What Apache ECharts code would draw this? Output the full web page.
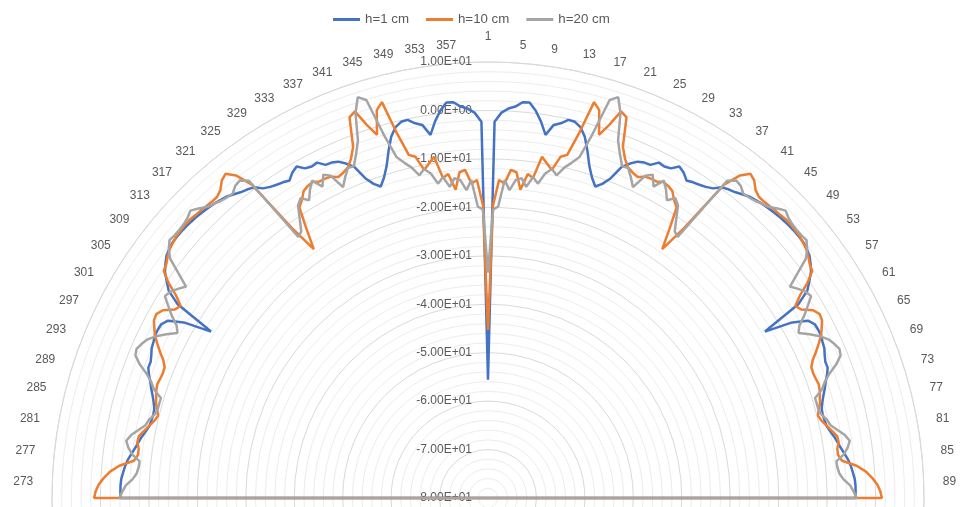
<!DOCTYPE html>
<html><head><meta charset="utf-8">
<script src="https://cdn.jsdelivr.net/npm/echarts@6/dist/echarts.min.js"></script>
<style>html,body{margin:0;padding:0;background:#fff}#c{width:960px;height:507px}</style>
</head><body><div id="c"></div>
<script>
// Series names and colours
const seriesNames = ['h=1 cm', 'h=10 cm', 'h=20 cm'];
const seriesColors = ['#4472C4', '#ED7D31', '#A5A5A5'];
// Radial scale (dB)
const radialMin = -80, radialMax = 10, radialStep = 10;
// Value of the hidden rear half (categories 92..270) = centre of the chart
const rearValue = -80;

// Values for categories 1..91 (front right half)
const blueRight = [-55.6, -2.3, -0.4, 0.5, 1.0, 2.0, 2.1, 0.6, -1.5, -4.1,
  -1.8, -1.2, -0.2, -0.3, -1.1, -2.8, -5.5, -8.4, -10.5, -12.0,
  -11.0, -9.3, -6.3, -5.0, -4.0, -3.6, -3.5, -2.3, -2.5, -2.2,
  -1.0, -1.6, -2.7, -2.3, -2.0, -1.6, -1.0, 0.3, 0.8, 1.2,
  1.8, 2.4, 2.7, 3.0, 3.2, 3.4, 3.6, 3.7, 3.8, 3.85,
  3.85, 3.8, 3.5, 3.1, 2.3, 1.4, 0.0, -1.4, -4.4, -13.3,
  -7.5, -4.5, -3.6, -3.5, -3.5, -3.8, -4.0, -4.5, -4.9, -4.9,
  -5.5, -6.3, -6.9, -7.6, -8.2, -8.7, -8.8, -8.7, -8.55, -8.0,
  -7.4, -6.9, -6.4, -5.8, -5.2, -4.8, -4.5, -4.2, -4.1, -4.1, -4.2];
// Values for categories 271..360 (front left half)
const blueLeft = [-4.2, -4.1, -4.1, -4.2, -4.5, -4.8, -5.2, -5.8, -6.4, -6.9,
  -7.4, -8.0, -8.55, -8.7, -8.8, -8.7, -8.2, -7.6, -6.9, -6.3,
  -5.5, -4.9, -4.9, -4.5, -4.0, -3.8, -3.5, -3.5, -3.6, -4.5,
  -7.5, -13.3, -4.4, -1.4, 0.0, 1.4, 2.3, 3.1, 3.5, 3.8,
  3.85, 3.85, 3.8, 3.7, 3.6, 3.4, 3.2, 3.0, 2.7, 2.4,
  1.8, 1.2, 0.8, 0.3, -1.0, -1.6, -2.0, -2.3, -2.7, -1.6,
  -1.0, -2.2, -2.5, -2.3, -3.5, -3.6, -4.0, -5.0, -6.3, -9.3,
  -11.0, -12.0, -10.5, -8.4, -5.5, -2.8, -1.1, -0.3, -0.2, -1.2,
  -1.8, -4.1, -1.5, 0.6, 2.1, 2.0, 1.0, 0.5, -0.4, -2.3];

const orangeRight = [-45.3, -19.5, -14.3, -15.0, -12.1, -12.5, -16.0, -12.6, -13.3, -8.7,
  -9.9, -11.0, -8.0, -7.3, -2.5, 4.6, 3.3, -1.6, 1.0, 4.4,
  3.6, -2.3, -4.5, -5.9, -6.5, -6.9, -6.2, -6.0, -6.0, -5.4,
  -5.6, -6.1, -7.5, -8.5, -13.0, -17.3, -11.0, 1.0, 4.5, 6.1,
  5.5, 4.2, 3.6, 3.6, 3.7, 3.9, 4.0, 4.2, 4.2, 4.1,
  4.0, 3.7, 3.4, 2.8, 2.1, 1.7, -0.4, -3.2, -5.2, -4.5,
  -2.5, -1.7, -1.9, -2.7, -3.5, -4.7, -5.9, -7.2, -8.0, -8.1,
  -8.0, -7.8, -8.0, -8.4, -8.7, -9.3, -9.8, -9.3, -8.5, -7.6,
  -6.8, -6.7, -7.2, -7.2, -6.5, -3.6, -1.8, -0.6, 0.4, 1.0, 1.3];
const orangeLeft = [1.3, 1.0, 0.4, -0.6, -1.8, -3.6, -6.5, -7.2, -7.2, -6.7,
  -6.8, -7.6, -8.5, -9.3, -9.8, -9.3, -8.7, -8.4, -8.0, -7.8,
  -8.0, -8.1, -8.0, -7.2, -5.9, -4.7, -3.5, -2.7, -1.9, -1.7,
  -2.5, -4.5, -5.2, -3.2, -0.4, 1.7, 2.1, 2.8, 3.4, 3.7,
  4.0, 4.1, 4.2, 4.2, 4.0, 3.9, 3.7, 3.6, 3.6, 4.2,
  5.5, 6.1, 4.5, 1.0, -11.0, -17.3, -13.0, -8.5, -7.5, -6.1,
  -5.6, -5.4, -6.0, -6.0, -6.2, -6.9, -6.5, -5.9, -4.5, -2.3,
  3.6, 4.4, 1.0, -1.6, 3.3, 4.6, -2.5, -7.3, -8.0, -11.0,
  -9.9, -8.7, -13.3, -12.6, -16.0, -12.5, -12.1, -15.0, -14.3, -19.5];

const grayRight = [-33.5, -20.5, -19.8, -14.3, -16.3, -14.1, -13.6, -15.3, -13.1, -14.3,
  -12.0, -10.8, -11.9, -10.0, -8.7, -7.2, -2.0, 5.9, 7.0, 4.0,
  -1.5, -4.0, -6.1, -6.0, -7.5, -9.2, -6.0, -5.1, -7.2, -5.1,
  -6.5, -8.3, -7.0, -8.0, -10.5, -12.8, -13.4, 2.0, 3.2, 2.9,
  2.0, 2.2, 2.5, 3.0, 3.5, 4.5, 5.4, 4.8, 4.5, 4.4,
  4.4, 4.6, 3.6, 2.2, -1.0, -3.9, -2.8, -1.8, -1.35, -3.0,
  -4.6, -6.5, -7.4, -5.5, -3.8, -2.5, -1.75, -1.2, -1.5, -3.0,
  -5.0, -6.5, -7.5, -9.4, -9.4, -9.4, -9.0, -8.2, -7.7, -6.5,
  -5.2, -4.4, -5.0, -6.0, -7.7, -7.6, -7.3, -6.5, -5.2, -4.5, -3.9];
const grayLeft = [-3.9, -4.5, -5.2, -6.5, -7.3, -7.6, -7.7, -6.0, -5.0, -4.4,
  -5.2, -6.5, -7.7, -8.2, -9.0, -9.4, -9.4, -9.4, -7.5, -6.5,
  -5.0, -3.0, -1.5, -1.2, -1.75, -2.5, -3.8, -5.5, -7.4, -6.5,
  -4.6, -3.0, -1.35, -1.8, -2.8, -3.9, -1.0, 2.2, 3.6, 4.6,
  4.4, 4.4, 4.5, 4.8, 5.4, 4.5, 3.5, 3.0, 2.5, 2.2,
  2.0, 2.9, 3.2, 2.0, -13.4, -12.8, -10.5, -8.0, -7.0, -8.3,
  -6.5, -5.1, -7.2, -5.1, -6.0, -9.2, -7.5, -6.0, -6.1, -4.0,
  -1.5, 4.0, 7.0, 5.9, -2.0, -7.2, -8.7, -10.0, -11.9, -10.8,
  -12.0, -14.3, -13.1, -15.3, -13.6, -14.1, -16.3, -14.3, -19.8, -20.5];

// category k sits at angle (k-1) degrees, clockwise from the top
function buildSeries(right, left) {
  const d = [];
  right.forEach((v, i) => d.push([v, i]));          // categories 1..91
  d.push([rearValue, 91]);                           // category 92
  d.push([rearValue, 269]);                          // category 270
  left.forEach((v, i) => d.push([v, 270 + i]));     // categories 271..360
  d.push([right[0], 360]);                           // close the loop
  return d;
}
const allData = [buildSeries(blueRight, blueLeft), buildSeries(orangeRight, orangeLeft), buildSeries(grayRight, grayLeft)];

function sci(v) {
  const s = Number(v).toExponential(2);
  const m = s.match(/^(-?[\d.]+)e([+-])(\d+)$/);
  return m[1] + 'E' + m[2] + (m[3].length < 2 ? '0' + m[3] : m[3]);
}

// Category labels: Excel-like placement (side-aligned, vertically centred)
function angleLabel(v) {
  if (v >= 360) return '';
  const t = String(v + 1);
  if (v === 0) return t;
  if (v < 17) return '{rc' + t.length + '|' + t + '}';
  if (v < 74) return '{dn|' + t + '}';
  if (v < 287) return t;
  if (v < 344) return '{dn|' + t + '}';
  return '{lc' + t.length + '|' + t + '}';
}
const lblBase = {color: '#595959', fontSize: 12, lineHeight: 12};
const digitW = 6.7;
const dropPad = -16;

const chart = echarts.init(document.getElementById('c'), null, {renderer: 'canvas'});
chart.setOption({
  animation: false,
  backgroundColor: '#ffffff',
  textStyle: {fontFamily: 'Liberation Sans, Arial, sans-serif'},
  legend: {
    top: 8, left: 328, icon: 'rect', itemWidth: 27, itemHeight: 3, itemGap: 17,
    textStyle: {color: '#595959', fontSize: 13.3},
    data: seriesNames
  },
  polar: {center: [488, 498], radius: 436},
  angleAxis: {
    type: 'value', min: 0, max: 360, interval: 4, startAngle: 90, clockwise: true,
    axisLine: {show: true, lineStyle: {color: '#d9d9d9', width: 1}},
    axisTick: {show: false},
    splitLine: {show: false},
    axisLabel: {margin: 19, color: '#595959', fontSize: 12,
      formatter: angleLabel,
      rich: {
        dn: Object.assign({padding: [0, 0, dropPad, 0]}, lblBase),
        rc1: Object.assign({padding: [0, 0, dropPad, digitW]}, lblBase),
        rc2: Object.assign({padding: [0, 0, dropPad, digitW * 2]}, lblBase),
        rc3: Object.assign({padding: [0, 0, dropPad, digitW * 3]}, lblBase),
        lc3: Object.assign({padding: [0, digitW * 3, dropPad, 0]}, lblBase)
      }}
  },
  radiusAxis: {
    type: 'value', min: radialMin, max: radialMax, interval: radialStep,
    axisLine: {show: false}, axisTick: {show: false},
    splitLine: {show: true, lineStyle: {color: '#d9d9d9', width: 1}},
    minorTick: {show: false, splitNumber: 5},
    minorSplitLine: {show: true, lineStyle: {color: '#ededed', width: 1}},
    axisLabel: {margin: 16, color: '#595959', fontSize: 12, formatter: v => sci(v)},
    z: 1
  },
  series: allData.map((d, i) => ({
    name: seriesNames[i], type: 'line', coordinateSystem: 'polar',
    data: d, showSymbol: false, symbol: 'none', smooth: false,
    lineStyle: {width: 2.5, color: seriesColors[i]},
    itemStyle: {color: seriesColors[i]}, z: 2 + i
  }))
});
</script></body></html>
